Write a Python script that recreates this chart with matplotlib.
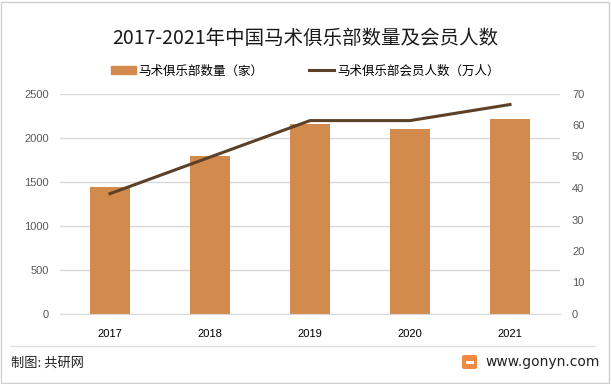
import numpy as np
import matplotlib
matplotlib.use('Agg')
from matplotlib import pyplot as plt
from matplotlib.patches import Rectangle, FancyBboxPatch
from matplotlib.lines import Line2D

plt.rcParams['font.family'] = ['Noto Sans CJK SC', 'DejaVu Sans']

# данные
years = ['2017', '2018', '2019', '2020', '2021']
clubs = [1440, 1790, 2150, 2100, 2210]
members = [38.2, 49.8, 61.4, 61.4, 66.5]
left_ticks = [0, 500, 1000, 1500, 2000, 2500]
right_ticks = [0, 10, 20, 30, 40, 50, 60, 70]

bar_color = '#D38B4D'
line_color = '#5C4028'
grid_color = '#D9D9D9'
tick_color = '#595959'
tick_font = ['Liberation Sans']

W, H = 611, 384
fig = plt.figure(figsize=(W / 100, H / 100), dpi=100)

# рамка
fig.patches.append(Rectangle((1 / W, 1 / H), (W - 3) / W, (H - 3) / H,
                             transform=fig.transFigure, fill=False,
                             edgecolor='#D0D0D0', linewidth=1))

ax = fig.add_axes([60 / W, (H - 314) / H, 500 / W, (314 - 93.5) / H])
x = np.arange(len(years))
ax.bar(x, clubs, width=0.4, color=bar_color, zorder=2)
ax.set_xlim(-0.5, len(years) - 0.5)
ax.set_ylim(0, 2500)
ax.set_yticks(left_ticks, labels=[str(v) for v in left_ticks],
              fontfamily=tick_font)
ax.set_xticks(x, labels=years, fontfamily=tick_font)
ax.yaxis.grid(True, color=grid_color, linewidth=1, zorder=0)
for s in ax.spines.values():
    s.set_visible(False)
ax.spines['bottom'].set_visible(True)
ax.spines['bottom'].set_color(grid_color)
ax.tick_params(axis='both', length=0, labelsize=8, colors=tick_color)
ax.tick_params(axis='x', colors='#000000', pad=11)
ax.tick_params(axis='y', pad=7.9)

ax2 = ax.twinx()
ax2.plot(x, members, color=line_color, linewidth=2.2, zorder=3)
ax2.set_ylim(0, 70)
ax2.set_yticks(right_ticks, labels=[str(v) for v in right_ticks],
               fontfamily=tick_font)
for s in ax2.spines.values():
    s.set_visible(False)
ax2.tick_params(axis='y', length=0, labelsize=8, colors=tick_color, pad=8.6)

# заголовок
fig.text(0.5, (H - 38) / H, '2017-2021年中国马术俱乐部数量及会员人数',
         ha='center', va='center', fontsize=14, color='#1a1a1a')

# легенда
handles = [Rectangle((0, 0), 1, 1, color=bar_color),
           Line2D([0], [0], color=line_color, linewidth=2.2)]
fig.legend(handles, ['马术俱乐部数量（家）', '马术俱乐部会员人数（万人）'],
           loc='center', bbox_to_anchor=(305 / W, (H - 71) / H), ncol=2,
           frameon=False, fontsize=9, handlelength=2.0, handleheight=0.55,
           columnspacing=3.6, handletextpad=0.25, borderpad=0)

# нижняя линия и подписи
fig.add_artist(Line2D([11 / W, 595 / W], [(H - 346) / H] * 2,
                      transform=fig.transFigure, color='#E0E0E0', linewidth=1))
fig.text(11 / W, (H - 363) / H, '制图: 共研网', ha='left', va='center',
         fontsize=9.5, color='#222222')
fig.text(485 / W, (H - 362) / H, 'www.gonyn.com', ha='left',
         va='center', fontsize=10, color='#222222', family=['DejaVu Sans'])
fig.patches.append(FancyBboxPatch((462 / W, (H - 369) / H), 15 / W, 14 / H,
                                  boxstyle='round,pad=0,rounding_size=0.004',
                                  transform=fig.transFigure,
                                  facecolor='#F28A45', edgecolor='none'))
fig.patches.append(Rectangle((466 / W, (H - 363.5) / H), 8 / W, 3 / H,
                             transform=fig.transFigure,
                             facecolor='white', edgecolor='none'))

fig.savefig('out.png', dpi=100)
